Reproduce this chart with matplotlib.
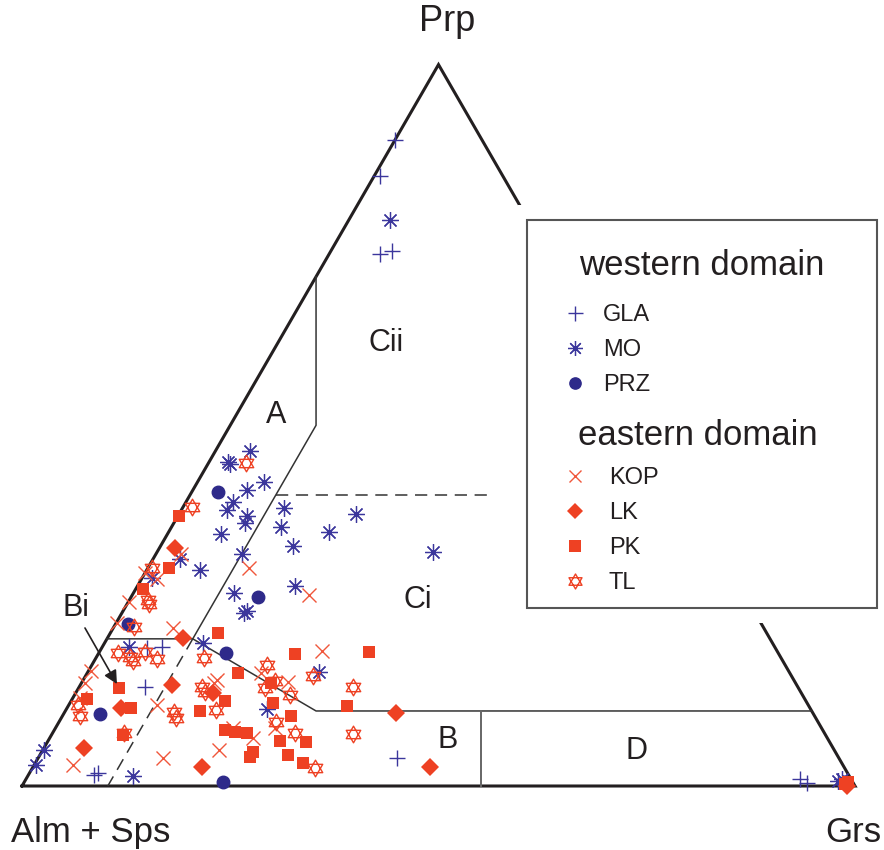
import numpy as np
import matplotlib.pyplot as plt
from matplotlib.path import Path
from matplotlib.patches import Rectangle

plt.rcParams['font.family'] = ['Liberation Sans', 'DejaVu Sans']

################################### Data (Grs %, Prp %): #######################################

# western domain
gla_grs = [0.0, 0.7, 6.1, 7.3, 5.4, 7.2, 7.9, 7.9, 8.2, 43.1, 92.9, 94.0]
gla_prp = [89.5, 84.5, 73.8, 74.2, 19.1, 19.3, 13.7, 1.5, 1.8, 3.9, 1.0, 0.4]

mo_grs = [5.0, 4.1, 2.3, 2.6, 7.9, 6.5, 5.7, 5.5, 8.3, 8.5, 6.4, 1.2, 3.2, 6.4, 10.3, 12.1, 13.1,
          15.9, 19.2, 21.2, 33.1, 18.9, 12.1, 14.9, 14.7, 3.2, 11.8, 27.7, 24.1, 0.1, 0.2, 12.6,
          97.6, 97.9]
mo_prp = [78.4, 46.5, 44.9, 44.7, 42.2, 41.1, 39.3, 38.3, 37.4, 36.5, 35.0, 28.9, 31.5, 30.0, 32.2,
          38.6, 35.9, 33.3, 35.2, 37.7, 32.5, 27.7, 26.8, 24.3, 24.0, 19.3, 19.8, 15.8, 10.7, 5.0,
          2.9, 1.4, 0.7, 1.0]

prz_grs = [3.1, 15.2, 1.5, 15.3, 4.4, 23.9]
prz_prp = [40.8, 26.2, 22.5, 18.4, 10.0, 0.55]

# eastern domain
kop_grs = [3.0, 1.9, 0.0, 0.1, 0.1, 7.2, 12.1, 21.2, 0.3, 0.4, 0.9, 10.6, 4.7, 15.0, 21.2, 16.1,
           15.9, 24.4, 26.4, 21.3, 26.7, 20.9, 24.7]
kop_prp = [32.2, 28.7, 29.5, 25.5, 22.6, 21.9, 30.2, 26.5, 16.0, 14.3, 12.2, 11.2, 2.9, 3.9, 5.0,
           14.7, 14.3, 6.7, 8.0, 8.0, 18.7, 15.7, 14.4]

lk_grs = [1.9, 9.1, 11.0, 16.5, 6.5, 4.8, 20.3, 39.9, 47.7, 99.0]
lk_prp = [33.0, 20.5, 14.0, 12.9, 10.8, 5.3, 2.6, 10.1, 2.6, 0.0]

pk_grs = [0.2, 2.5, 0.9, 12.9, 4.8, 1.8, 7.7, 8.6, 16.2, 18.5, 23.6, 32.4, 18.1, 22.8, 24.4, 27.4,
          33.5, 20.5, 21.8, 23.3, 27.9, 31.0, 29.8, 25.4, 25.4, 32.1, 98.9, 98.6]
pk_prp = [37.4, 30.2, 27.3, 21.2, 13.6, 12.1, 10.8, 7.1, 10.4, 11.8, 18.3, 18.6, 15.7, 14.3, 11.5,
          9.7, 11.1, 7.8, 7.5, 7.4, 6.2, 6.1, 4.3, 4.7, 4.0, 3.2, 0.55, 0.3]

tl_grs = [4.5, 1.1, 0.5, 2.2, 2.6, 2.4, 2.3, 4.0, 4.7, 5.5, 7.4, 12.9, 1.1, 2.1, 8.6, 13.1, 13.8,
          18.0, 14.7, 15.5, 21.0, 22.4, 23.1, 25.9, 27.3, 26.1, 29.1, 33.9, 32.9, 36.1]
tl_prp = [44.8, 38.7, 30.2, 25.8, 25.2, 22.1, 18.4, 17.9, 17.3, 18.6, 17.6, 17.8, 11.2, 9.7, 7.4,
          10.3, 9.4, 10.5, 13.7, 13.0, 16.8, 13.6, 14.6, 12.6, 15.3, 8.9, 7.4, 2.5, 13.7, 7.2]

# field boundaries
frame_grs = [0, 0, 100, 0]
frame_prp = [0, 100, 0, 0]
a_grs = [0, 10.3, 10.3]
a_prp = [70.6, 50, 20.4]
a_dash_grs = [10.3, 10.3]
a_dash_prp = [20.4, 0]
c_dash_grs = [10.3, 36.4]
c_dash_prp = [40.3, 40.3]
bi_grs = [0, 10.3, 30.1, 89.6]
bi_prp = [20.4, 20.4, 10.4, 10.4]
bd_grs = [49.9, 55.1]
bd_prp = [10.4, 0]


def tern(grs, prp):
    # Grs at bottom right, Prp at top, Alm + Sps at bottom left
    grs = np.asarray(grs, float) / 100
    prp = np.asarray(prp, float) / 100
    return grs + prp / 2, prp * np.sqrt(3) / 2


################################### Plotting: ################################################
fig = plt.figure(figsize=(8.84, 8.5), dpi=100)
ax = fig.add_axes([0, 0, 1, 1])
ax.set_xlim(-22 / 833, 862 / 833)
ax.set_ylim(-64 / 833, 786 / 833)
ax.axis('off')

ink = '#231f20'
ax.plot(*tern(frame_grs, frame_prp), color=ink, lw=2.2, solid_joinstyle='miter')
ax.plot(*tern(a_grs, a_prp), color='#333333', lw=1.1)
ax.plot(*tern(a_dash_grs, a_dash_prp), color='#333333', lw=1.1, dashes=(8, 5))
ax.plot(*tern(c_dash_grs, c_dash_prp), color='#333333', lw=1.1, dashes=(8, 5))
ax.plot(*tern(bi_grs, bi_prp), color='#333333', lw=1.1)
ax.plot(*tern(bd_grs, bd_prp), color='#666666', lw=1.4)

blue = '#3b369c'
red = '#ee4123'

# hexagram marker for TL (two overlapping triangles)
c = np.sqrt(3) / 2
hexagram = Path([(0, 1), (-c, -0.5), (c, -0.5), (0, 1), (0, -1), (-c, 0.5), (c, 0.5), (0, -1)],
                [Path.MOVETO, Path.LINETO, Path.LINETO, Path.CLOSEPOLY,
                 Path.MOVETO, Path.LINETO, Path.LINETO, Path.CLOSEPOLY])

h_gla, = ax.plot(*tern(gla_grs, gla_prp), ls='none', marker='+', ms=12, mew=1.0, color=blue, label='GLA')
h_mo, = ax.plot(*tern(mo_grs, mo_prp), ls='none', marker=(8, 2, 0), ms=12, mew=0.9, color=blue, label='MO')
ax.plot(*tern(mo_grs, mo_prp), ls='none', marker='o', ms=2.5, color=blue)
h_prz, = ax.plot(*tern(prz_grs, prz_prp), ls='none', marker='o', ms=9, color='#2e2a8a', label='PRZ')

h_kop, = ax.plot(*tern(kop_grs, kop_prp), ls='none', marker='x', ms=9.5, mew=1.0, color='#f0573b', label='KOP')
h_tl, = ax.plot(*tern(tl_grs, tl_prp), ls='none', marker=hexagram, ms=12, mew=1.0, mfc='none',
                color=red, label='TL')
h_pk, = ax.plot(*tern(pk_grs, pk_prp), ls='none', marker='s', ms=9, mew=0, color=red, label='PK')
h_lk, = ax.plot(*tern(lk_grs, lk_prp), ls='none', marker='D', ms=9, mew=0, color=red, label='LK')

# corner labels
ax.text(0.5102, 0.9064, 'Prp', fontsize=26, ha='center', va='baseline', color=ink)
ax.text(0.0828, -0.0672, 'Alm + Sps', fontsize=25, ha='center', va='baseline', color=ink)
ax.text(0.9976, -0.0672, 'Grs', fontsize=25, ha='center', va='baseline', color=ink)

# field labels
for lbl, x, y in [('Cii', 0.437, 0.5222), ('A', 0.3049, 0.4358), ('Ci', 0.4754, 0.2137),
                  ('Bi', 0.0648, 0.2041), ('B', 0.5114, 0.0456), ('D', 0.7371, 0.0324)]:
    ax.text(x, y, lbl, fontsize=22, ha='center', va='baseline', color=ink)

ax.annotate('', xy=(0.1140, 0.1224), xytext=(0.0756, 0.1897),
            arrowprops=dict(arrowstyle='-|>', color=ink, lw=1.2, mutation_scale=20,
                            shrinkA=0, shrinkB=0))

################################### Legend box: ##############################################
ax.add_patch(Rectangle((518 / 884, 1 - 623 / 850), 366 / 884, 418 / 850, transform=ax.transAxes,
                       facecolor='white', edgecolor='none', zorder=5, clip_on=False))
ax.add_patch(Rectangle((527 / 884, 1 - 608 / 850), 350 / 884, 388 / 850, transform=ax.transAxes,
                       facecolor='white', edgecolor='#555555', lw=1.5, zorder=6, clip_on=False))

ax.text(0.6687, 0.6134, 'western domain', fontsize=25, ha='left', va='baseline', color=ink, zorder=7)
ax.text(0.6675, 0.4094, 'eastern domain', fontsize=25, ha='left', va='baseline', color=ink, zorder=7)

leg1 = ax.legend(handles=[h_gla, h_mo, h_prz], loc='upper left', bbox_to_anchor=(563 / 884, 1 - 304 / 850),
                 frameon=False, fontsize=17, handlelength=1.0, handletextpad=0.69, labelspacing=0.55,
                 borderpad=0, borderaxespad=0, labelcolor=ink, markerscale=0.9)
leg1.set_zorder(8)
ax.add_artist(leg1)
leg2 = ax.legend(handles=[h_kop, h_lk, h_pk, h_tl], loc='upper left', bbox_to_anchor=(563 / 884, 1 - 467 / 850),
                 frameon=False, fontsize=17, handlelength=1.0, handletextpad=0.94, labelspacing=0.55,
                 borderpad=0, borderaxespad=0, labelcolor=ink, markerscale=0.9)
leg2.set_zorder(8)

fig.savefig('out.png', dpi=100)
